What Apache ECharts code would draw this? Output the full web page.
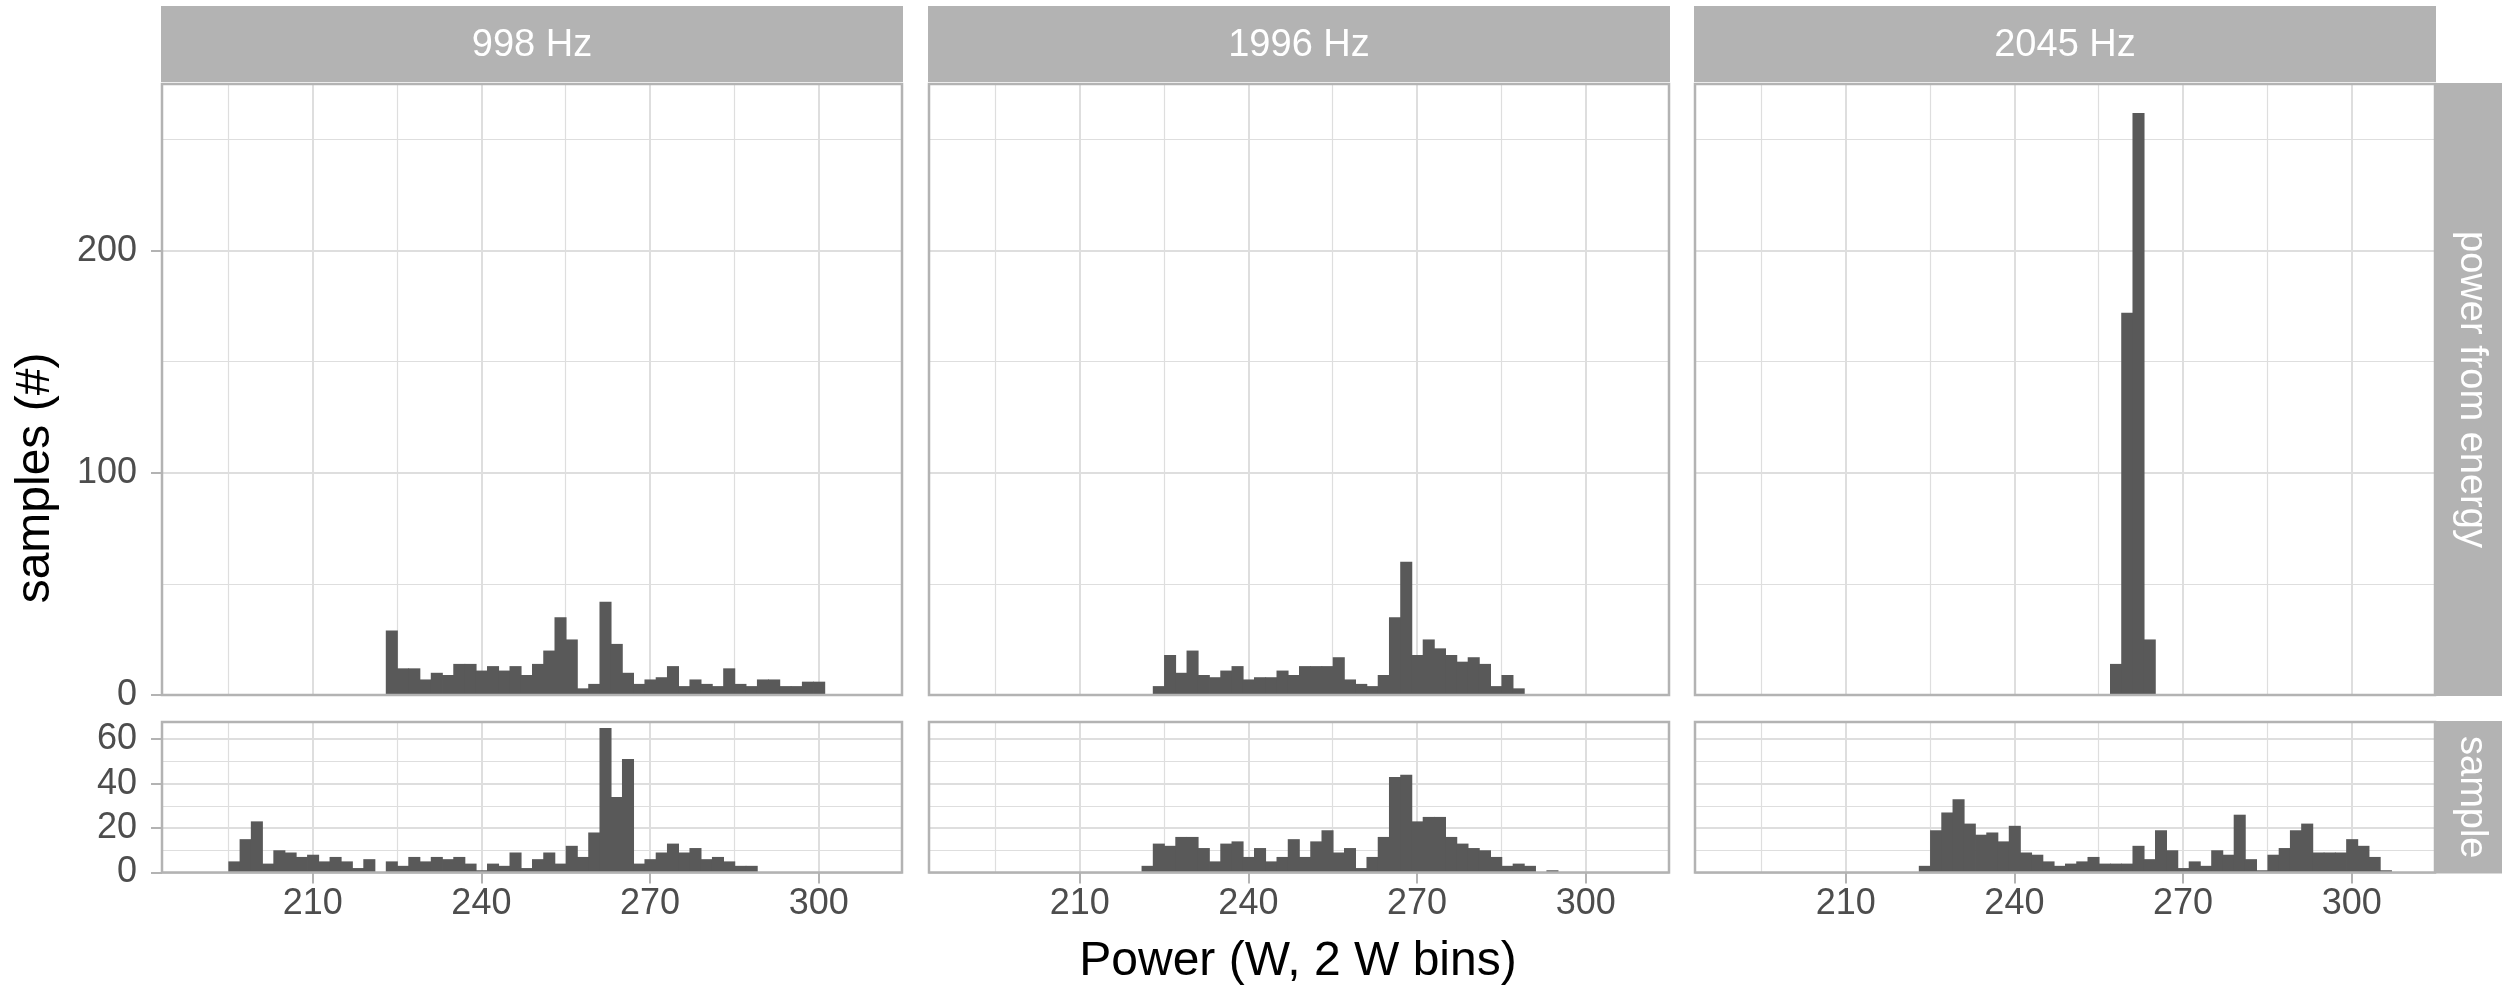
<!DOCTYPE html>
<html>
<head>
<meta charset="utf-8">
<title>samples per power bin</title>
<script src="https://cdn.jsdelivr.net/npm/echarts@6.0.0/dist/echarts.min.js"></script>
<style>
html, body { margin: 0; padding: 0; background: #ffffff; }
#chartmain { width: 2502px; height: 993px; }
</style>
</head>
<body>
<div id="chartmain"></div>
<script>
// histogram data, 2 W bins, counts
var binWidth = 2;
var freqLabels = ['998 Hz', '1996 Hz', '2045 Hz'];
var rowLabels = ['power from energy', 'sample'];

var energy998Start = 223;
var energy998 = [29, 12, 12, 7, 10, 9, 14, 14, 11, 13, 11, 13, 9, 14, 20, 35, 25, 3, 5, 42, 23, 10, 5, 7, 8, 13, 4, 7, 5, 4, 12, 5, 4, 7, 7, 4, 4, 6, 6];
var energy1996Start = 223;
var energy1996 = [4, 18, 10, 20, 9, 8, 11, 13, 7, 8, 8, 11, 9, 13, 13, 13, 17, 7, 5, 4, 9, 35, 60, 18, 25, 21, 18, 15, 17, 14, 4, 9, 3];
var energy2045Start = 257;
var energy2045 = [14, 172, 262, 25];

var sample998Start = 195;
var sample998 = [5, 15, 23, 4, 10, 9, 7, 8, 5, 7, 5, 2, 6, 0, 5, 3, 7, 5, 7, 6, 7, 4, 1, 4, 3, 9, 2, 6, 9, 4, 12, 7, 18, 65, 34, 51, 4, 6, 9, 13, 9, 11, 6, 7, 5, 3, 3];
var sample1996Start = 221;
var sample1996 = [3, 13, 12, 16, 16, 11, 5, 13, 14, 7, 11, 5, 7, 15, 7, 14, 19, 9, 11, 2, 7, 16, 43, 44, 23, 25, 25, 16, 13, 11, 10, 7, 3, 4, 3, 0, 1];
var sample2045Start = 223;
var sample2045 = [3, 19, 27, 33, 22, 17, 18, 14, 21, 9, 8, 5, 3, 4, 5, 7, 4, 4, 4, 12, 6, 19, 10, 2, 5, 3, 10, 8, 26, 6, 1, 8, 11, 19, 22, 9, 9, 9, 15, 12, 7, 1];

var xMajorTicks = [210, 240, 270, 300];
var xMinorTicks = [195, 225, 255, 285];
var yMajorTicks = [[0, 100, 200], [0, 20, 40, 60]];
var yMinorTicks = [[50, 150, 250], [10, 30, 50]];

var panels = [
	{ row: 0, col: 0, start: energy998Start, counts: energy998 },
	{ row: 0, col: 1, start: energy1996Start, counts: energy1996 },
	{ row: 0, col: 2, start: energy2045Start, counts: energy2045 },
	{ row: 1, col: 0, start: sample998Start, counts: sample998 },
	{ row: 1, col: 1, start: sample1996Start, counts: sample1996 },
	{ row: 1, col: 2, start: sample2045Start, counts: sample2045 }
];

// layout (px)
var colLeft = [162, 929, 1695];
var colWidth = 740;
var rowTop = [84, 722];
var rowHeight = [611, 150.5];
var xMin = 183.2, xMax = 314.8;
var yMax = [275, 67.7];

var font = 'Liberation Sans, Arial, sans-serif';
var textGrey = '#4d4d4d';
var borderGrey = '#b3b3b3';
var gridGrey = '#dedede';

var grids = [], xAxes = [], yAxes = [], series = [], graphics = [];

panels.forEach(function (p, i) {
	grids.push({
		left: colLeft[p.col], top: rowTop[p.row],
		width: colWidth, height: rowHeight[p.row],
		show: false
	});
	// minor grid lines
	xAxes.push({
		type: 'value', gridIndex: i, position: 'bottom', min: xMin, max: xMax,
		axisLine: { show: false, onZero: false },
		axisTick: { show: false, customValues: xMinorTicks },
		axisLabel: { show: false, customValues: xMinorTicks },
		splitLine: { show: true, lineStyle: { color: gridGrey, width: 1.2 } }
	});
	yAxes.push({
		type: 'value', gridIndex: i, position: 'left', min: 0, max: yMax[p.row],
		axisLine: { show: false, onZero: false },
		axisTick: { show: false, customValues: yMinorTicks[p.row] },
		axisLabel: { show: false, customValues: yMinorTicks[p.row] },
		splitLine: { show: true, lineStyle: { color: gridGrey, width: 1.2 } }
	});
	// major grid lines, ticks and labels
	xAxes.push({
		type: 'value', gridIndex: i, position: 'bottom', min: xMin, max: xMax,
		axisLine: { show: false, onZero: false },
		axisTick: { show: p.row === 1, customValues: xMajorTicks, length: 11, lineStyle: { color: borderGrey, width: 2 } },
		axisLabel: { show: p.row === 1, customValues: xMajorTicks, margin: 14, fontSize: 36, color: textGrey, fontFamily: font },
		splitLine: { show: true, lineStyle: { color: gridGrey, width: 2 } }
	});
	yAxes.push({
		type: 'value', gridIndex: i, position: 'left', min: 0, max: yMax[p.row],
		axisLine: { show: false, onZero: false },
		axisTick: { show: p.col === 0, customValues: yMajorTicks[p.row], length: 11, lineStyle: { color: borderGrey, width: 2 } },
		axisLabel: { show: p.col === 0, customValues: yMajorTicks[p.row], margin: 25, fontSize: 36, color: textGrey, fontFamily: font },
		splitLine: { show: true, lineStyle: { color: gridGrey, width: 2 } }
	});

	var data = p.counts.map(function (c, k) {
		return [p.start + k * binWidth, c];
	});
	series.push({
		type: 'custom',
		xAxisIndex: 2 * i + 1,
		yAxisIndex: 2 * i + 1,
		data: data,
		encode: { x: 0, y: 1 },
		renderItem: function (params, api) {
			var x0 = api.value(0);
			var top = api.coord([x0, api.value(1)]);
			var base = api.coord([x0 + binWidth, 0]);
			// small overlap so neighbouring bins don't leave a hairline gap
			return {
				type: 'rect',
				shape: { x: top[0], y: top[1], width: base[0] - top[0] + 0.8, height: base[1] - top[1] },
				style: { fill: '#595959' }
			};
		}
	});

	// panel border on top of everything
	graphics.push({
		type: 'rect', z: 100, silent: true,
		shape: { x: colLeft[p.col], y: rowTop[p.row], width: colWidth, height: rowHeight[p.row] },
		style: { fill: 'none', stroke: borderGrey, lineWidth: 2.5 }
	});
});

// strips on top
freqLabels.forEach(function (lab, c) {
	graphics.push({
		type: 'rect', z: 90,
		shape: { x: colLeft[c] - 1, y: 6, width: colWidth + 2, height: 76 },
		style: { fill: borderGrey }
	});
	graphics.push({
		type: 'text', z: 91, x: colLeft[c] + colWidth / 2, y: 46,
		style: { text: lab, fill: '#ffffff', fontSize: 38, fontFamily: font, align: 'center', verticalAlign: 'middle' }
	});
});
// strips on the right
rowLabels.forEach(function (lab, r) {
	graphics.push({
		type: 'rect', z: 90,
		shape: { x: 2435, y: rowTop[r] - 1, width: 76, height: rowHeight[r] + 2 },
		style: { fill: borderGrey }
	});
	graphics.push({
		type: 'text', z: 91, x: 2471, y: rowTop[r] + rowHeight[r] / 2, rotation: -Math.PI / 2,
		style: { text: lab, fill: '#ffffff', fontSize: 38, fontFamily: font, align: 'center', verticalAlign: 'middle' }
	});
});
// axis titles
graphics.push({
	type: 'text', x: 1298, y: 962,
	style: { text: 'Power (W, 2 W bins)', fill: '#000000', fontSize: 48, fontFamily: font, align: 'center', verticalAlign: 'middle' }
});
graphics.push({
	type: 'text', x: 36, y: 478, rotation: Math.PI / 2,
	style: { text: 'samples (#)', fill: '#000000', fontSize: 48, fontFamily: font, align: 'center', verticalAlign: 'middle' }
});

var option = {
	backgroundColor: '#ffffff',
	animation: false,
	grid: grids,
	xAxis: xAxes,
	yAxis: yAxes,
	series: series,
	graphic: graphics
};

var myChart = echarts.init(document.getElementById('chartmain'));
myChart.setOption(option);
</script>
</body>
</html>
